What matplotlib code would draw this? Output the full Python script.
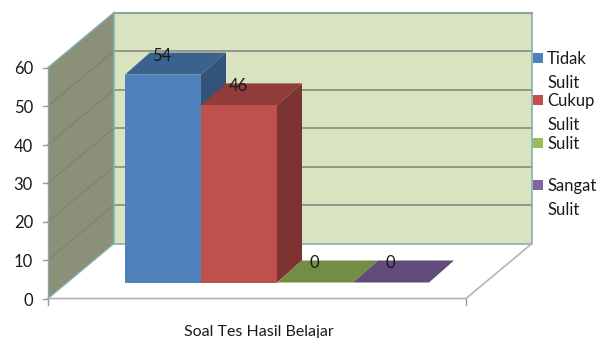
import matplotlib
matplotlib.use("Agg")
import matplotlib.pyplot as plt
from matplotlib.patches import Polygon

categories = ["Tidak\nSulit", "Cukup\nSulit", "Sulit", "Sangat\nSulit"]
values = [54, 46, 0, 0]
y_ticks = [0, 10, 20, 30, 40, 50, 60]
x_label = "Soal Tes Hasil Belajar"

front_colors = ["#4F81BD", "#C0504D", "#9BBB59", "#8064A2"]
top_colors = ["#3B618E", "#903C3A", "#748C43", "#604B7A"]
side_colors = ["#335379", "#7C3331", "#64793A", "#533F69"]
legend_y = [58, 100, 143, 185]

plt.rcParams["font.family"] = ["Lato", "DejaVu Sans"]

fig = plt.figure(figsize=(5.98, 3.38), dpi=100)
ax = fig.add_axes([0, 0, 1, 1])
ax.set_xlim(0, 598)
ax.set_ylim(338, 0)
ax.axis("off")

# oblique box layout, everything below is in figure pixels
unit = 3.85
x0, y0 = 48, 298.5
wall_w = 418
depth_x, depth_y = 66, -55
bar_x0, bar_w = 125, 76
bar_y0 = 282.5
bar_dx, bar_dy = 25, -22


def vy(v, base=y0):
    return base - v * unit


def poly(points, color, edge="none", lw=0.0, z=1):
    ax.add_patch(Polygon(points, closed=True, facecolor=color, edgecolor=edge, linewidth=lw, zorder=z))


teal = "#7FB2B5"
grid = "#8E9186"

# back wall and left wall
back_l, back_r = x0 + depth_x, x0 + wall_w + depth_x
back_b, back_t = y0 + depth_y, vy(60) + depth_y
poly([(back_l, back_b), (back_r, back_b), (back_r, back_t), (back_l, back_t)], "#D9E3BF", z=1)
poly([(x0, y0), (back_l, back_b), (back_l, back_t), (x0, vy(60))], "#8B9079", z=1)

for v in y_ticks[1:]:
    y = vy(v)
    if v < 60:
        ax.plot([x0, back_l], [y, y + depth_y], color="#7E8272", lw=0.8, zorder=2)
    ax.plot([back_l, back_r], [y + depth_y, y + depth_y], color=grid, lw=1.3, zorder=2)

ax.plot([x0, back_l], [vy(60), back_t], color=teal, lw=1, zorder=3)
ax.plot([back_l, back_r], [back_t, back_t], color="#8FA3A0", lw=1.5, zorder=3)
ax.plot([back_r, back_r, back_l, back_l], [back_t, back_b, back_b, back_t], color=teal, lw=1.2, zorder=3)
ax.plot([x0, back_l], [y0, back_b], color=teal, lw=1, zorder=3)
ax.plot([x0, x0], [vy(60), y0], color="#8CA5A5", lw=1, zorder=3)

# floor edges and ticks
floor_r = x0 + wall_w
ax.plot([x0, floor_r, back_r], [y0, y0, back_b], color="#B4B4B4", lw=1.2, zorder=3)
ax.plot([x0, x0], [y0, y0 + 6], color="#9A9A9A", lw=1, zorder=3)
ax.plot([floor_r, floor_r], [y0, y0 + 6], color="#9A9A9A", lw=1, zorder=3)
for v in y_ticks:
    ax.plot([x0 - 5, x0], [vy(v), vy(v)], color="#9A9A9A", lw=1, zorder=3)
    ax.text(x0 - 15, vy(v) + 2, str(v), ha="right", va="center", fontsize=12, color="#1A1A1A", zorder=6)

# bars, left to right so each one covers the previous side face
for i, v in enumerate(values):
    l = bar_x0 + i * bar_w
    r = l + bar_w
    top = vy(v, bar_y0)
    poly([(r, bar_y0), (r + bar_dx, bar_y0 + bar_dy), (r + bar_dx, top + bar_dy), (r, top)], side_colors[i], z=4)
    poly([(l, top), (l + bar_dx, top + bar_dy), (r + bar_dx, top + bar_dy), (r, top)], top_colors[i], z=4)
    if v > 0:
        poly([(l, bar_y0), (r, bar_y0), (r, top), (l, top)], front_colors[i], z=4)
    ax.text(l + bar_w / 2 - 1, top + bar_dy + 3, str(v), ha="center", va="center", fontsize=12,
            color="#1A1A1A", zorder=6)

ax.text(258.5, 332, x_label, ha="center", va="center", fontsize=11.5, color="#1A1A1A")

# legend
for name, color, y in zip(categories, front_colors, legend_y):
    poly([(533, y - 5), (543, y - 5), (543, y + 5), (533, y + 5)], color, z=5)
    lines = name.split("\n")
    for j, line in enumerate(lines):
        ax.text(547, y + 1 + j * 24, line, ha="left", va="center", fontsize=12, color="#1A1A1A", zorder=6)

fig.savefig("out.png", dpi=100)
